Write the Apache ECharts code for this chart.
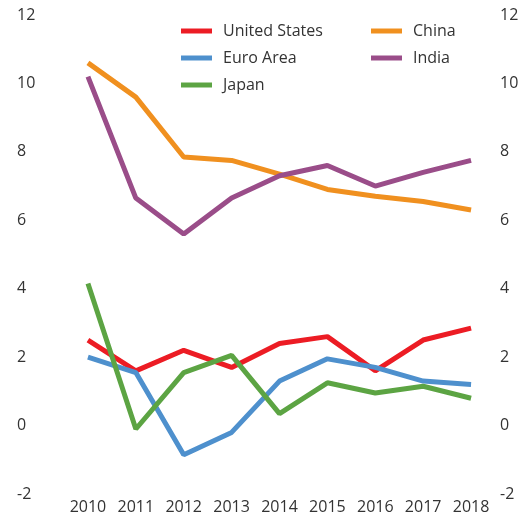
<!DOCTYPE html>
<html><head><meta charset="utf-8">
<script src="https://cdn.jsdelivr.net/npm/echarts@6/dist/echarts.min.js"></script>
<style>html,body{margin:0;padding:0;background:#fff}#c{width:532px;height:517px}</style>
</head><body><div id="c"></div>
<script>
var years = ['2010','2011','2012','2013','2014','2015','2016','2017','2018'];
var unitedStates = [2.5, 1.6, 2.2, 1.7, 2.4, 2.6, 1.6, 2.5, 2.85];
var euroArea = [2.0, 1.55, -0.85, -0.2, 1.3, 1.95, 1.7, 1.3, 1.2];
var japan = [4.15, -0.1, 1.55, 2.05, 0.35, 1.25, 0.95, 1.15, 0.8];
var china = [10.6, 9.6, 7.85, 7.75, 7.35, 6.9, 6.7, 6.55, 6.3];
var india = [10.2, 6.65, 5.6, 6.65, 7.3, 7.6, 7.0, 7.4, 7.75];
var yTicks = {min: -2, max: 12, interval: 2};

var font = 'Open Sans';
var txt = '#333333';
function mk(name, data, color) {
  return {name: name, type: 'line', data: data, symbol: 'none', lineStyle: {width: 5, color: color}, itemStyle: {color: color}, animation: false};
}
var chart = echarts.init(document.getElementById('c'));
var legendCommon = {orient: 'vertical', top: 18, icon: 'rect', itemWidth: 31, itemHeight: 5, itemGap: 11,
  textStyle: {fontFamily: font, fontSize: 16, color: txt, padding: [0,0,0,6]}};
chart.setOption({
  animation: false,
  grid: {left: 64, right: 37, top: 15, bottom: 23},
  legend: [
    Object.assign({left: 176, data: ['United States', 'Euro Area', 'Japan']}, legendCommon),
    Object.assign({left: 366, data: ['China', 'India']}, legendCommon)
  ],
  xAxis: {type: 'category', data: years, boundaryGap: true,
    axisLine: {show: false}, axisTick: {show: false},
    axisLabel: {fontFamily: font, fontSize: 16, color: txt, margin: 5, interval: 0}},
  yAxis: [
    {type: 'value', min: yTicks.min, max: yTicks.max, interval: yTicks.interval, position: 'left',
     splitLine: {show: false}, axisLine: {show: false}, axisTick: {show: false},
     axisLabel: {fontFamily: font, fontSize: 16, color: txt, align: 'left', margin: 47}},
    {type: 'value', min: yTicks.min, max: yTicks.max, interval: yTicks.interval, position: 'right',
     splitLine: {show: false}, axisLine: {show: false}, axisTick: {show: false},
     axisLabel: {fontFamily: font, fontSize: 16, color: txt, align: 'left', margin: 5}}
  ],
  series: [
    mk('United States', unitedStates, '#ec1c24'),
    mk('Euro Area', euroArea, '#4e90cd'),
    mk('Japan', japan, '#5ca443'),
    mk('China', china, '#f0901f'),
    mk('India', india, '#9a4d89')
  ]
});
</script></body></html>
